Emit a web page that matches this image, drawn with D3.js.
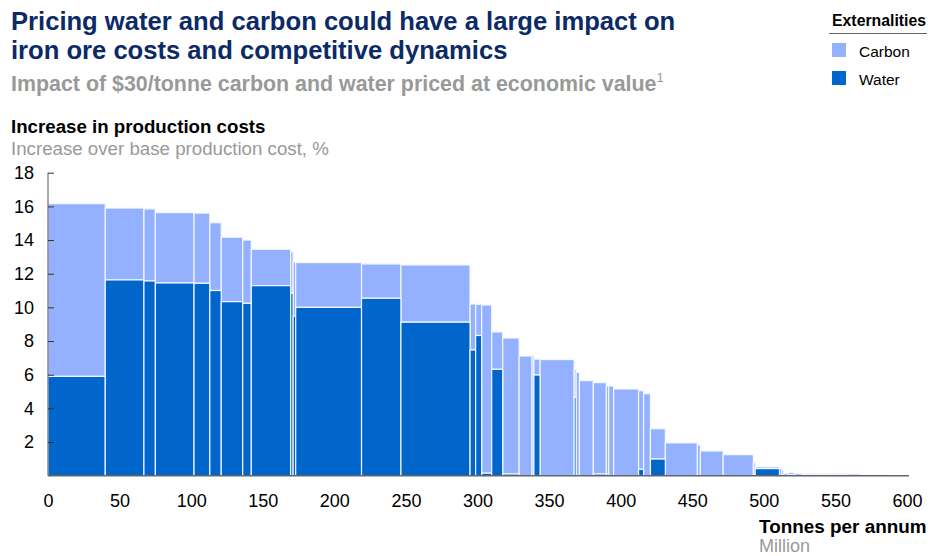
<!DOCTYPE html>
<meta charset="utf-8">

<!-- Load d3.js -->
<script src="https://cdn.jsdelivr.net/npm/d3@7"></script>

<style>
    body {
        margin: 0;
        background-color: white;
        font-family: "Liberation Sans", Arial, sans-serif;
    }
    svg {
        display: block;
    }
</style>

<body>
    <div id="my_dataviz"></div>
</body>

<script>
    // production capacity of each mine, million tonnes per annum (bar widths)
    var capacity = [40, 27, 8, 27, 11, 8, 15, 6, 27.5, 1.7, 1.8, 46, 27.5, 48.3, 3.9, 4.2, 7, 7.7, 11.5, 9,
        1.3, 4.3, 23.8, 1.4, 2.3, 9.7, 9.1, 1.6, 3.5, 17.4, 3.5, 4.8, 10.4, 22.4, 2.1, 15.9, 21.1, 1.3, 16.9, 1.7,
        1.4, 2.8, 4.9, 5, 12.5, 19, 4.5, 4.2, 3.6, 15.8];

    // increase in cost from water, %
    var water = [5.9, 11.63, 11.57, 11.45, 11.43, 11.0, 10.34, 10.24, 11.29, 10.84, 9.49, 10.0, 10.54, 9.12, 7.47, 8.33, 0.15, 6.32, 0.1, 0,
        0, 5.98, 0, 4.65, 0, 0, 0.1, 0.1, 0, 0, 0.38, 0, 0.99, 0, 0, 0, 0, 0, 0.42, 0,
        0, 0.1, 0.05, 0, 0.08, 0.08, 0, 0, 0, 0.03];

    // increase in cost from carbon, % (stacked on top of water)
    var carbon = [10.26, 4.27, 4.28, 4.18, 4.17, 4.03, 3.83, 3.76, 2.16, 2.46, 3.21, 2.66, 2.04, 3.4, 2.73, 1.85, 9.99, 2.22, 8.08, 7.11,
        7.15, 0.95, 6.9, 1.65, 6.15, 5.65, 5.43, 5.23, 5.33, 5.15, 4.67, 4.87, 1.8, 1.95, 1.82, 1.47, 1.25, 0.77, 0.1, 0.44,
        0.34, 0.02, 0.13, 0.12, 0.04, 0.04, 0.1, 0.1, 0.08, 0.01];

    var xTicks = [0, 50, 100, 150, 200, 250, 300, 350, 400, 450, 500, 550, 600];
    var yTicks = [2, 4, 6, 8, 10, 12, 14, 16, 18];

    var legendItems = ["Carbon", "Water"];
    var colors = { "Carbon": "#93b1ff", "Water": "#0066cc" };

    var width = 928, height = 556;
    var plotLeft = 48, plotRight = 907, plotTop = 172.7, plotBottom = 475.7;

    var svg = d3.select("#my_dataviz").append("svg")
        .attr("width", width)
        .attr("height", height);

    // titles
    var title = svg.append("text")
        .attr("fill", "#0b2a66")
        .style("font-size", "25.6px")
        .style("font-weight", "bold");
    title.append("tspan").attr("x", 11).attr("y", 30).text("Pricing water and carbon could have a large impact on");
    title.append("tspan").attr("x", 11).attr("y", 59).text("iron ore costs and competitive dynamics");

    var sub = svg.append("text")
        .attr("x", 11).attr("y", 91)
        .attr("fill", "#999999")
        .style("font-size", "21.4px")
        .style("font-weight", "bold")
        .text("Impact of $30/tonne carbon and water priced at economic value");
    sub.append("tspan")
        .attr("dy", -9)
        .style("font-size", "13px")
        .style("font-weight", "normal")
        .text("1");

    svg.append("text")
        .attr("x", 11).attr("y", 133)
        .attr("fill", "#000")
        .style("font-size", "18.7px")
        .style("font-weight", "bold")
        .text("Increase in production costs");

    svg.append("text")
        .attr("x", 11).attr("y", 155)
        .attr("fill", "#999999")
        .style("font-size", "18.7px")
        .text("Increase over base production cost, %");

    // legend
    svg.append("text")
        .attr("x", 926).attr("y", 26)
        .attr("text-anchor", "end")
        .style("font-size", "15.8px")
        .style("font-weight", "bold")
        .text("Externalities");
    svg.append("line")
        .attr("x1", 829).attr("x2", 927)
        .attr("y1", 33.5).attr("y2", 33.5)
        .attr("stroke", "#666").attr("stroke-width", 1);

    legendItems.forEach(function (d, i) {
        svg.append("rect")
            .attr("x", 832).attr("y", 43 + i * 28)
            .attr("width", 14).attr("height", 14)
            .attr("fill", colors[d]);
        svg.append("text")
            .attr("x", 859).attr("y", 57 + i * 28)
            .style("font-size", "15.5px")
            .text(d);
    });

    // scales
    var xScale = d3.scaleLinear().domain([0, 600]).range([plotLeft, plotRight]);
    var yScale = d3.scaleLinear().domain([0, 18]).range([plotBottom, plotTop]);

    // bar positions from cumulative capacity
    var ends = Array.from(d3.cumsum(capacity));
    var bars = capacity.map(function (c, i) {
        return { x0: ends[i] - c, x1: ends[i], water: water[i], carbon: carbon[i] };
    });

    var g = svg.append("g");

    // carbon stacked on top of water
    g.selectAll("rect.carbon")
        .data(bars.filter(function (d) { return d.carbon > 0; }))
        .enter().append("rect")
        .attr("class", "carbon")
        .attr("x", function (d) { return xScale(d.x0); })
        .attr("width", function (d) { return xScale(d.x1) - xScale(d.x0); })
        .attr("y", function (d) { return yScale(d.water + d.carbon); })
        .attr("height", function (d) { return yScale(d.water) - yScale(d.water + d.carbon); })
        .attr("fill", colors.Carbon)
        .attr("stroke", "#f4f7ff")
        .attr("stroke-width", 1.2);

    g.selectAll("rect.water")
        .data(bars.filter(function (d) { return d.water > 0; }))
        .enter().append("rect")
        .attr("class", "water")
        .attr("x", function (d) { return xScale(d.x0); })
        .attr("width", function (d) { return xScale(d.x1) - xScale(d.x0); })
        .attr("y", function (d) { return yScale(d.water); })
        .attr("height", function (d) { return yScale(0) - yScale(d.water); })
        .attr("fill", colors.Water)
        .attr("stroke", "#f4f7ff")
        .attr("stroke-width", 1.2);

    // y axis
    var yAxis = svg.append("g")
        .attr("transform", "translate(" + plotLeft + ",0)")
        .call(d3.axisRight(yScale).tickValues(yTicks).tickSize(6).tickFormat(""));
    yAxis.select(".domain").attr("stroke", "#555").attr("d", "M0," + plotTop + "V" + plotBottom);
    yAxis.selectAll(".tick line").attr("stroke", "#333");

    svg.append("g").selectAll("text")
        .data(yTicks)
        .enter().append("text")
        .attr("x", 34)
        .attr("y", function (d) { return yScale(d); })
        .attr("dy", "0.35em")
        .attr("text-anchor", "end")
        .style("font-size", "18px")
        .text(function (d) { return d; });

    // x axis
    var xAxis = svg.append("g")
        .attr("transform", "translate(0," + plotBottom + ")")
        .call(d3.axisBottom(xScale).tickValues(xTicks).tickSize(0).tickPadding(19));
    xAxis.select(".domain").attr("stroke", "#666").attr("stroke-width", 1.5).attr("d", "M" + plotLeft + ",0H909");
    xAxis.selectAll(".tick text")
        .style("font-size", "18px")
        .style("font-family", "'Liberation Sans', Arial, sans-serif")
        .attr("fill", "#000");

    svg.append("text")
        .attr("x", 759).attr("y", 533)
        .style("font-size", "18.9px")
        .style("font-weight", "bold")
        .text("Tonnes per annum");
    svg.append("text")
        .attr("x", 759).attr("y", 552)
        .attr("fill", "#999999")
        .style("font-size", "18px")
        .text("Million");
</script>
